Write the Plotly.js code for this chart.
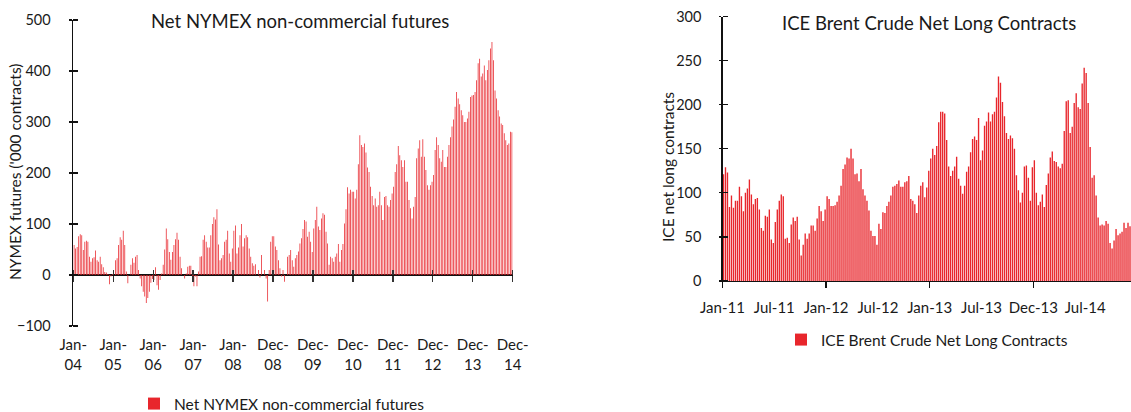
<!DOCTYPE html>
<html><head><meta charset="utf-8">
<script src="https://cdn.plot.ly/plotly-3.0.1.min.js"></script>
<style>html,body{margin:0;padding:0;background:#fff}#chart{width:1131px;height:412px}</style>
</head><body><div id="chart"></div>
<script>
// ---- Net NYMEX non-commercial futures ('000 contracts), fortnightly readings per year ----
const nymex2004 = [59,52,55,76,80,78,49,65,67,65,36,26,33,35,48,29,26,36,21,15,6,5,2,-18,-3,2];
const nymex2005 = [0,29,33,59,74,69,87,59,7,-16,0,20,33,24,36,39,10,-7,-22,-33,-42,-55,-45,-33,-15,-8];
const nymex2006 = [-10,15,-20,-29,-10,3,20,50,91,70,45,30,45,59,70,83,69,36,13,0,-7,3,16,18,18,-5];
const nymex2007 = [-22,-3,-22,7,36,37,69,78,65,54,54,78,100,113,109,129,60,29,33,39,65,69,87,42,26,52];
const nymex2008 = [87,97,42,54,78,100,56,72,78,74,52,36,23,18,21,0,10,-5,39,0,10,-7,-52,10,65,76];
const nymex2009 = [76,56,49,29,13,-3,10,-13,0,36,39,49,29,16,33,39,46,62,72,90,108,105,75,85,65,45];
const nymex2010 = [91,108,134,95,88,111,121,118,85,62,20,36,33,26,36,42,61,26,49,61,101,129,172,160,167,163];
const nymex2011 = [163,150,167,217,274,255,251,258,240,211,202,173,155,137,150,134,137,163,137,108,153,155,137,134,147,160];
const nymex2012 = [173,202,217,253,235,225,212,225,183,183,147,131,111,134,153,229,248,264,232,266,232,206,176,167,176,183];
const nymex2013 = [196,245,270,255,229,222,245,212,212,232,255,270,291,305,330,359,346,335,323,313,300,300,307,320,349,352];
const nymex2014 = [353,359,382,415,424,389,395,411,382,402,421,444,457,421,362,346,323,311,297,294,278,264,255,258,281,280];
const nymexTickLabels = ['Jan-<br>04','Jan-<br>05','Jan-<br>06','Jan-<br>07','Jan-<br>08','Dec-<br>08','Dec-<br>09','Dec-<br>10','Dec-<br>11','Dec-<br>12','Dec-<br>13','Dec-<br>14'];
const nymexName = 'Net NYMEX non-commercial futures';

// ---- ICE Brent Crude net long contracts, weekly readings ----
const brent2011 = [121,129,123,84,97,83,91,91,107,96,79,100,105,115,98,87,93,94,81,60,57,74,73,81,47,43,67,81,91,98,96,48,49,43,64,72,68,73,47,29,41,54,48,54,63,63,57,71,85,79,68,81];
const brent2012 = [96,93,85,85,86,90,97,108,127,132,140,139,150,139,121,122,113,127,104,97,91,80,57,51,51,41,65,59,78,77,85,90,97,107,108,110,114,107,107,112,113,119,93,91,87,77,97,108,112,95,106,125];
const brent2013 = [139,150,143,153,180,192,192,190,160,130,119,125,130,141,116,108,99,108,124,130,146,161,164,160,185,137,148,176,181,191,181,189,192,208,232,225,203,187,168,161,165,162,150,120,103,89,100,130,131,117,91,129];
const brent2014 = [137,100,86,90,98,84,109,122,140,147,136,135,130,128,133,170,204,205,168,175,202,213,197,195,224,242,236,202,152,117,120,97,72,63,64,63,68,65,43,37,46,59,52,54,56,66,60,66,62];
const brentTickLabels = ['Jan-11','Jul-11','Jan-12','Jul-12','Jan-13','Jul-13','Dec-13','Jul-14'];
const brentName = 'ICE Brent Crude Net Long Contracts';

const nymex = [].concat(nymex2004,nymex2005,nymex2006,nymex2007,nymex2008,nymex2009,nymex2010,nymex2011,nymex2012,nymex2013,nymex2014);
const brent = [].concat(brent2011,brent2012,brent2013,brent2014);
const perYearN = nymex2004.length;       // readings per label step
const brentHalf = 26;                    // label every 26 weeks
const idxN = nymex.map((_, i) => i);
const idxB = brent.map((_, i) => i);

const W = 1131, H = 412;
const fx = v => v / W, fy = v => 1 - v / H;
const FONT = 'Lato, "Open Sans", sans-serif';
const TXT = '#1a1a1a';
const RED = '#e8262c';
const EPS = 1e-3;

const nTickVals = nymexTickLabels.map((_, k) => k * perYearN - 0.5);
const bLabelVals = brentTickLabels.map((_, k) => k * brentHalf - 0.5);
const bMajorVals = bLabelVals.filter((_, k) => k % 2 === 0);
const yTicksL = [-100, 0, 100, 200, 300, 400, 500];
const yTicksR = [0, 50, 100, 150, 200, 250, 300];

const yDomL = [fy(326), fy(20)];
const yRangeL = [-100, 500];
const zeroPos = yDomL[0] + (0 - yRangeL[0]) / (yRangeL[1] - yRangeL[0]) * (yDomL[1] - yDomL[0]);
const xDomL = [fx(73.3), fx(512.7)];
const xDomR = [fx(722.5), 1];
const yDomR = [fy(281), fy(16.5)];

const traces = [
  {type:'bar', x: idxN, y: nymex, name: nymexName, xaxis:'x', yaxis:'y', width: 0.5,
   marker:{color: RED}, legend:'legend', hoverinfo:'skip'},
  {type:'bar', x: idxB, y: brent, name: brentName, xaxis:'x2', yaxis:'y2', width: 0.68,
   marker:{color: RED}, legend:'legend2', hoverinfo:'skip'}
];

const xTickFont = {family: FONT, size: 15, color: TXT};
const yTickFont = {family: FONT, size: 14.5, color: TXT};
const layout = {
  width: W, height: H,
  margin: {l:0, r:0, t:0, b:0, autoexpand:false},
  paper_bgcolor: '#fff', plot_bgcolor: 'rgba(0,0,0,0)',
  font: {family: FONT, color: TXT},
  showlegend: true,
  xaxis: {domain: xDomL, anchor:'free', position: zeroPos, range:[-0.5, nymex.length - 0.5],
    tickmode:'array', tickvals: nTickVals, ticktext: nymexTickLabels,
    ticks:'outside', ticklen:6, tickcolor:'#333', tickwidth:1.3,
    minor: {tickmode:'array', tickvals: nTickVals.map(v => v + EPS), ticks:'inside', ticklen:5, tickcolor:'#333', tickwidth:1.3},
    showline:false, showgrid:false, zeroline:false, automargin:false,
    tickfont: xTickFont, ticklabelstandoff: 50},
  yaxis: {domain: yDomL, anchor:'x', range: yRangeL, tickmode:'array', tickvals: yTicksL,
    ticks:'outside', ticklen:3.5, tickcolor:'#111', tickwidth:1.2,
    minor: {tickmode:'array', tickvals: yTicksL.map(v => v + EPS), ticks:'inside', ticklen:5, tickcolor:'#111', tickwidth:1.2},
    showline:true, linecolor:'#111', linewidth:1.2, automargin:false,
    showgrid:false, zeroline:true, zerolinecolor:'#111', zerolinewidth:1.2,
    tickfont: yTickFont, ticklabelstandoff: 15},
  xaxis2: {domain: xDomR, anchor:'y2', range:[-0.5, brent.length - 0.5],
    tickmode:'array', tickvals: bLabelVals, ticktext: brentTickLabels,
    ticks:'', automargin:false,
    minor: {tickmode:'array', tickvals: bMajorVals.map(v => v + EPS), ticks:'outside', ticklen:6, tickcolor:'#111', tickwidth:1.3},
    showline:true, linecolor:'#111', linewidth:1.2, showgrid:false, zeroline:false,
    tickfont: xTickFont, ticklabelstandoff: 13},
  yaxis2: {domain: yDomR, anchor:'x2', range:[0, 300], tickmode:'array', tickvals: yTicksR,
    ticks:'outside', ticklen:2, tickcolor:'#111', tickwidth:1.2, automargin:false,
    minor: {tickmode:'array', tickvals: yTicksR.map(v => v + EPS), ticks:'inside', ticklen:5, tickcolor:'#111', tickwidth:1.2},
    showline:true, linecolor:'#111', linewidth:1.2,
    showgrid:false, zeroline:false, tickfont: yTickFont, ticklabelstandoff: 15},
  legend: {x: fx(134), y: fy(404), xanchor:'left', yanchor:'middle', orientation:'h',
    font:{family: FONT, size: 15.5, color: TXT}, bgcolor:'rgba(0,0,0,0)', itemwidth:30},
  legend2: {x: fx(781), y: fy(340), xanchor:'left', yanchor:'middle', orientation:'h',
    font:{family: FONT, size: 15.5, color: TXT}, bgcolor:'rgba(0,0,0,0)', itemwidth:30},
  annotations: [
    {text: nymexName, x: fx(300), y: fy(21), xref:'paper', yref:'paper', xanchor:'center', yanchor:'middle',
     showarrow:false, font:{family: FONT, size: 18.5, color: TXT}},
    {text: brentName, x: fx(929), y: fy(23), xref:'paper', yref:'paper', xanchor:'center', yanchor:'middle',
     showarrow:false, font:{family: FONT, size: 18.5, color: TXT}},
    {text: "NYMEX futures ('000 contracts)", x: fx(15), y: fy(172), xref:'paper', yref:'paper',
     xanchor:'center', yanchor:'middle', textangle:-90, showarrow:false, font:{family: FONT, size: 15.5, color: TXT}},
    {text: 'ICE net long contracts', x: fx(668), y: fy(167), xref:'paper', yref:'paper',
     xanchor:'center', yanchor:'middle', textangle:-90, showarrow:false, font:{family: FONT, size: 15.5, color: TXT}}
  ]
};

Plotly.newPlot('chart', traces, layout, {staticPlot:true, displayModeBar:false});
</script>
</body></html>
